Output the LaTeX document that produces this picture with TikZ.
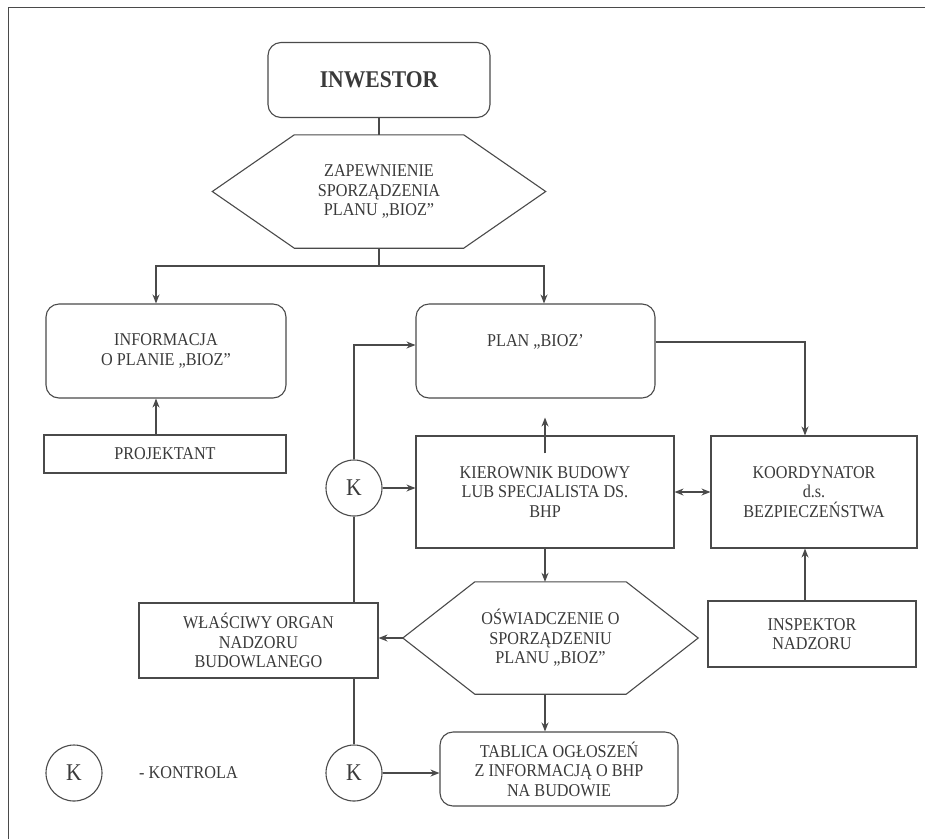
\documentclass[tikz,border=0pt]{standalone}
\usepackage{fontspec}
\setmainfont{Liberation Serif}[FakeStretch=0.9]
\usetikzlibrary{arrows.meta,calc}

\definecolor{ink}{HTML}{3A3A3A}
\definecolor{wire}{HTML}{4A4A4A}

\tikzset{
  txt/.style={text=ink, align=center, inner sep=0pt, font=\fontsize{18}{19.5}\selectfont},
  base/.style={txt, draw=wire, line width=1.1pt},
  roundbox/.style={base, rounded corners=13pt},
  plainbox/.style={base},
  hexframe/.style={txt},
  kcircle/.style={base, circle, minimum size=56pt, font=\fontsize{24}{24}\selectfont},
  wire/.style={draw=wire, line width=1.1pt},
  arr/.style={wire, -{Stealth[length=9pt,width=7pt]}},
  darr/.style={wire, {Stealth[length=9pt,width=7pt]}-{Stealth[length=9pt,width=7pt]}},
}

% hexagon with pointed left/right ends drawn around a named frame node
\newcommand{\hexoutline}[2]{%
  \draw[wire] ($(#1.north west)+(#2,0)$) -- ($(#1.north east)+(-#2,0)$) -- (#1.east)
    -- ($(#1.south east)+(-#2,0)$) -- ($(#1.south west)+(#2,0)$) -- (#1.west) -- cycle;}

\begin{document}
\begin{tikzpicture}[x=1pt,y=-1pt]
\useasboundingbox (0,0) rectangle (925,839);
\fill[white] (0,0) rectangle (925,839);

% page frame
\draw[wire, line width=1pt] (8,839) -- (8,7) -- (925,7);

% boxes
\node[roundbox, minimum width=222pt, minimum height=75pt,
      font=\fontsize{24}{24}\selectfont\bfseries] (inv) at (379,80) {INWESTOR};

\node[hexframe, minimum width=333pt, minimum height=113pt] (hex1) at (379,191.5)
  {ZAPEWNIENIE\\SPORZĄDZENIA\\PLANU „BIOZ''};
\hexoutline{hex1}{82}

\node[roundbox, minimum width=240pt, minimum height=94pt] (info) at (166,351)
  {INFORMACJA\\O PLANIE „BIOZ''};
\node[plainbox, minimum width=242pt, minimum height=38pt] (proj) at (165,454) {PROJEKTANT};

\node[roundbox, minimum width=239pt, minimum height=94pt,
      label={[txt, yshift=9pt]center:PLAN „BIOZ'}] (plan) at (535.5,351) {};

\node[plainbox, minimum width=258pt, minimum height=112pt] (kier) at (545,492)
  {KIEROWNIK BUDOWY\\LUB SPECJALISTA DS.\\BHP};
\node[plainbox, minimum width=206pt, minimum height=112pt] (koord) at (814,492)
  {KOORDYNATOR\\d.s.\\BEZPIECZEŃSTWA};

\node[kcircle] (k1) at (354,488) {K};

\node[plainbox, minimum width=239pt, minimum height=75pt] (wlas) at (258.5,640.5)
  {WŁAŚCIWY ORGAN\\NADZORU\\BUDOWLANEGO};

\node[hexframe, minimum width=295pt, minimum height=112pt] (hex2) at (550.5,638)
  {OŚWIADCZENIE O\\SPORZĄDZENIU\\PLANU „BIOZ''};
\hexoutline{hex2}{72}

\node[plainbox, minimum width=208pt, minimum height=66pt] (insp) at (812,634)
  {INSPEKTOR\\NADZORU};

\node[roundbox, minimum width=238pt, minimum height=74pt] (tab) at (559,769)
  {TABLICA OGŁOSZEŃ\\Z INFORMACJĄ O BHP\\NA BUDOWIE};

\node[kcircle] (k2) at (354,773) {K};

% legend
\node[kcircle] (kleg) at (74,773) {K};
\node[txt, anchor=west] (legtext) at (139,773) {- KONTROLA};

% connectors
\coordinate (split) at (379,266);
\draw[wire] (inv.south) -- (hex1.north);
\draw[wire] (hex1.south) -- (split);
\draw[arr] (split) -| ([xshift=-10pt]info.north);
\draw[arr] (split) -| ([xshift=8.5pt]plan.north);
\draw[arr] ([xshift=-9pt]proj.north) -- ([xshift=-9pt]proj.north |- info.south);

\draw[arr] (k1.north) |- ([yshift=6pt]plan.west);
\draw[arr] (k1.east) -- (k1.east -| kier.west);
\draw[wire] (k1.south) -- (k1.south |- wlas.north);

\draw[arr, shorten >=19pt] ([yshift=-18pt]kier.north) -- (kier.north |- plan.south);
\draw[arr] ([yshift=9pt]plan.east) -| ([xshift=-9pt]koord.north);
\draw[darr] (kier.east) -- (kier.east -| koord.west);
\draw[arr] (kier.south) -- (kier.south |- hex2.north);
\draw[arr] ([xshift=-7pt]insp.north) -- ([xshift=-7pt]insp.north |- koord.south);

\draw[arr] (hex2.west) -- (hex2.west -| wlas.east);
\draw[wire] (wlas.south -| k2.north) -- (k2.north);
\draw[arr] (hex2.south -| kier.south) -- (kier.south |- tab.north);
\draw[arr] (k2.east) -- (k2.east -| tab.west);
\end{tikzpicture}
\end{document}
